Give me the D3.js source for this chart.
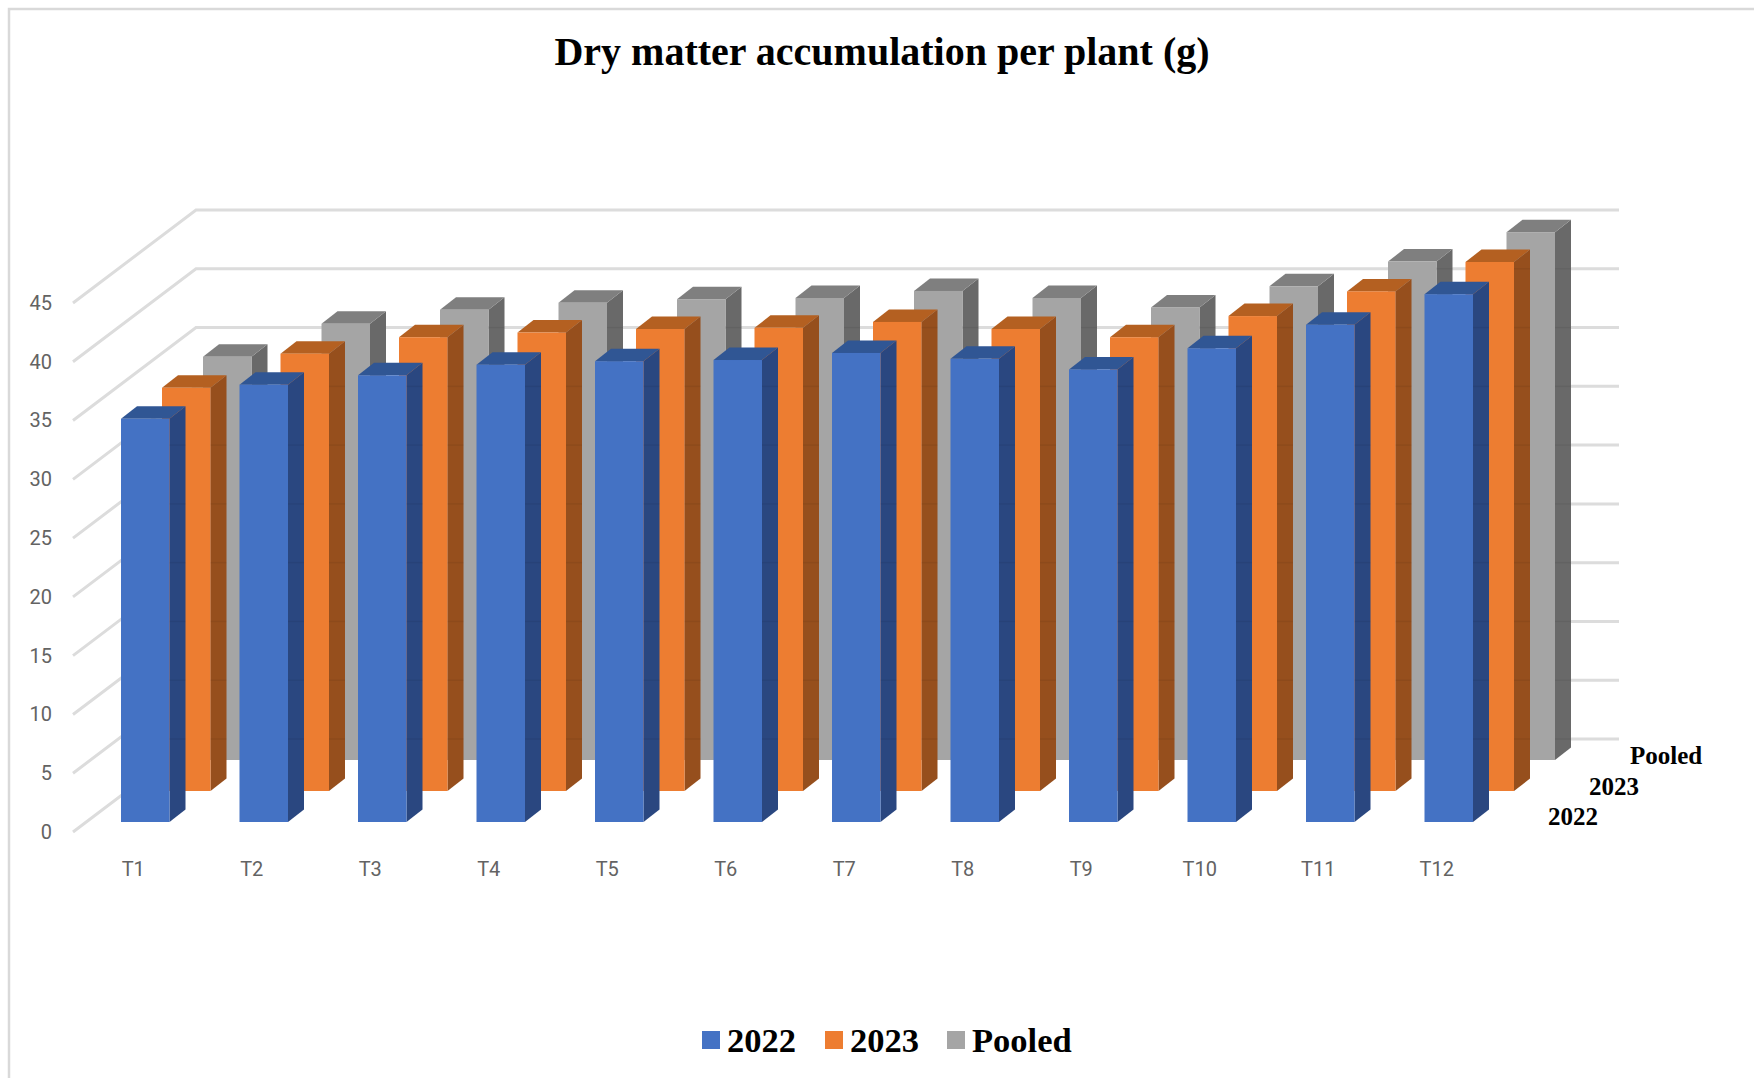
<!DOCTYPE html>
<html>
<head>
<meta charset="utf-8">
<script src="https://cdn.jsdelivr.net/npm/d3@7"></script>
<style>
  body { margin: 0; background: #fff; }
  text { font-family: "Liberation Serif", serif; }
  .axis text { font-family: Roboto, sans-serif; font-size: 20px; fill: #636363; }
  .axis path, .axis line { display: none; }
</style>
</head>
<body>
<div id="chart"></div>
<script>
// Values
const categories = ["T1", "T2", "T3", "T4", "T5", "T6", "T7", "T8", "T9", "T10", "T11", "T12"];
const seriesNames = ["2022", "2023", "Pooled"];
const values2022 = [34.3, 37.2, 38.0, 38.9, 39.2, 39.3, 39.9, 39.4, 38.5, 40.3, 42.3, 44.9];
const values2023 = [34.3, 37.2, 38.6, 39.0, 39.3, 39.4, 39.9, 39.3, 38.6, 40.4, 42.5, 45.0];
const valuesPooled = [34.3, 37.1, 38.3, 38.9, 39.2, 39.3, 39.9, 39.3, 38.5, 40.3, 42.4, 44.9];
const ticks = [0, 5, 10, 15, 20, 25, 30, 35, 40, 45];

// Chart settings
const width = 1754, height = 1078;
const floorLeft = 73, floorRight = 1619;   // front end of the wall lines, end of the back lines
const frontZero = 832, frontTop = 303;     // y of 0 and 45 at the front end of the wall lines
const wallDx = 123, wallDy = -93;          // how far the side wall runs back
const barLeft = 121, barBase = 822, barStep = 118.5, barWidth = 48.5;
const sideDx = 16, sideDy = -12.5;         // depth of a single bar
const colors = {
  "2022":   { front: "#4472c4", top: "#305694", side: "#2a4780" },
  "2023":   { front: "#ed7d31", top: "#b46021", side: "#964f1d" },
  "Pooled": { front: "#a5a5a5", top: "#7f7f7f", side: "#696969" }
};
const seriesValues = { "2022": values2022, "2023": values2023, "Pooled": valuesPooled };

// Scales
const yFront = d3.scaleLinear().domain([0, 45]).range([frontZero, frontTop]);
const barHeight = d3.scaleLinear().domain([0, 45]).range([0, frontZero - frontTop]);
const x = d3.scaleBand().domain(categories)
  .range([barLeft, barLeft + barStep * (categories.length - 1) + barWidth])
  .paddingInner(1 - barWidth / barStep).paddingOuter(0).align(0);
const depthX = d3.scalePoint().domain(seriesNames).range([0, 82]);
const depthY = d3.scalePoint().domain(seriesNames).range([0, -62]);

const svg = d3.select("#chart").append("svg")
  .attr("width", width).attr("height", height)
  .style("display", "block");

// Outer border, only top and left show in the picture
svg.append("path")
  .attr("d", "M9," + height + "V9H" + width)
  .attr("fill", "none").attr("stroke", "#d9d9d9").attr("stroke-width", 2.5);

svg.append("text")
  .attr("x", 882).attr("y", 65)
  .attr("text-anchor", "middle")
  .attr("font-size", 40).attr("font-weight", "bold")
  .text("Dry matter accumulation per plant (g)");

// Gridlines: side wall and back wall
const grid = svg.append("g").attr("fill", "none").attr("stroke", "#dcdcdc").attr("stroke-width", 3);
grid.selectAll("path").data(ticks).join("path")
  .attr("d", d => "M" + floorLeft + "," + yFront(d) +
    "L" + (floorLeft + wallDx) + "," + (yFront(d) + wallDy) + "H" + floorRight);

// Bars, back row first so the front rows cover them
const poly = pts => "M" + pts.map(p => p.join(",")).join("L") + "Z";
[...seriesNames].reverse().forEach(name => {
  const c = colors[name];
  const dx = depthX(name), base = barBase + depthY(name);
  const row = svg.append("g").attr("class", "row");
  const bars = row.selectAll("g").data(categories.map((t, i) => ({ t: t, v: seriesValues[name][i] })))
    .join("g");
  const left = d => x(d.t) + dx;
  const right = d => x(d.t) + x.bandwidth() + dx;
  const top = d => base - barHeight(d.v);

  bars.append("path").attr("fill", c.side).attr("d", d => poly([
    [right(d), base], [right(d) + sideDx, base + sideDy],
    [right(d) + sideDx, top(d) + sideDy], [right(d), top(d)]
  ]));
  bars.append("path").attr("fill", c.top).attr("d", d => poly([
    [left(d), top(d)], [left(d) + sideDx, top(d) + sideDy],
    [right(d) + sideDx, top(d) + sideDy], [right(d), top(d)]
  ]));
  bars.append("rect").attr("fill", c.front)
    .attr("x", left).attr("y", top)
    .attr("width", x.bandwidth()).attr("height", d => barHeight(d.v));

  // faint seams on the side faces, level with the back gridlines
  bars.each(function(d) {
    const seamYs = ticks.map(t => yFront(t) + wallDy)
      .filter(y => y > top(d) + 4 && y < base + sideDy);
    d3.select(this).selectAll("line").data(seamYs).join("line")
      .attr("x1", right(d)).attr("x2", right(d) + sideDx)
      .attr("y1", s => s).attr("y2", s => s)
      .attr("stroke", "#000").attr("stroke-opacity", 0.06).attr("stroke-width", 1.5);
  });
});

// Axes
svg.append("g").attr("class", "axis")
  .attr("transform", "translate(52,0)")
  .call(d3.axisLeft(yFront).tickValues(ticks).tickSize(0).tickPadding(0))
  .call(g => g.select(".domain").remove());

svg.append("g").attr("class", "axis")
  .attr("transform", "translate(0,862)")
  .call(d3.axisBottom(x).tickSize(0).tickPadding(0))
  .call(g => g.select(".domain").remove())
  .selectAll("text")
  .attr("text-anchor", "middle")
  .attr("x", -12);

// Depth axis names
const depthLabelX = d3.scalePoint().domain(seriesNames).range([1548, 1630]);
const depthLabelY = d3.scalePoint().domain(seriesNames).range([825, 764]);
svg.append("g").selectAll("text").data(seriesNames).join("text")
  .attr("x", d => depthLabelX(d)).attr("y", d => depthLabelY(d))
  .attr("font-size", 25).attr("font-weight", "bold")
  .text(d => d);

// Legend
const legendSwatchX = [702, 825, 947];
const legend = svg.append("g").selectAll("g").data(seriesNames).join("g")
  .attr("transform", (d, i) => "translate(" + legendSwatchX[i] + ",1031)");
legend.append("rect").attr("width", 18).attr("height", 18)
  .attr("fill", d => colors[d].front);
legend.append("text")
  .attr("x", 25).attr("y", 21)
  .attr("font-size", 34.5).attr("font-weight", "bold")
  .text(d => d);
</script>
</body>
</html>
